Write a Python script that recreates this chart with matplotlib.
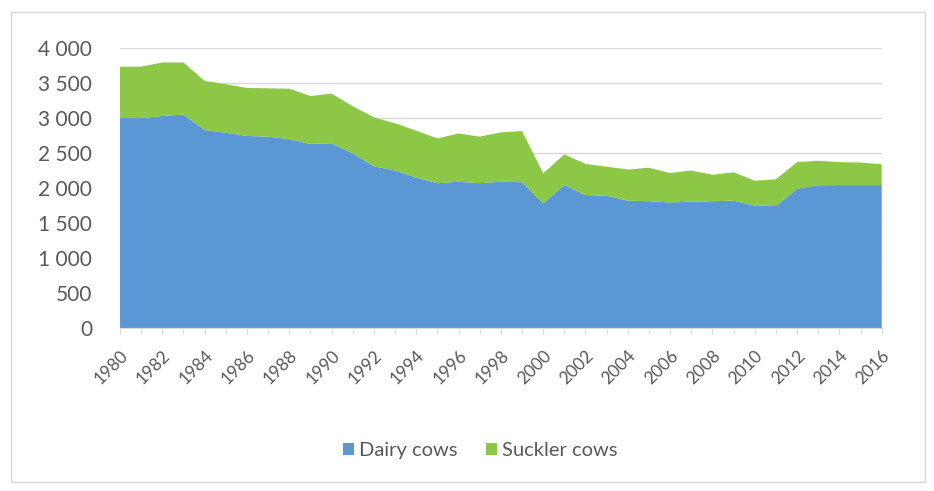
import matplotlib
matplotlib.use("Agg")
import matplotlib.pyplot as plt
from matplotlib.patches import Rectangle
from matplotlib.ticker import FuncFormatter, MultipleLocator

years = list(range(1980, 2017))
dairy_cows = [3000, 3000, 3030, 3050, 2830, 2790, 2745, 2735, 2700, 2630,
              2640, 2495, 2310, 2250, 2150, 2070, 2090, 2070, 2090, 2085,
              1780, 2045, 1900, 1890, 1820, 1812, 1795, 1805, 1812, 1820,
              1750, 1743, 1990, 2040, 2043, 2043, 2043]
total_cows = [3735, 3735, 3795, 3795, 3530, 3485, 3430, 3425, 3420, 3315,
              3350, 3170, 3010, 2925, 2820, 2710, 2780, 2735, 2795, 2815,
              2210, 2480, 2345, 2305, 2265, 2290, 2215, 2250, 2190, 2225,
              2105, 2125, 2370, 2390, 2370, 2365, 2340]
suckler_cows = [t - d for t, d in zip(total_cows, dairy_cows)]

series_names = ["Dairy cows", "Suckler cows"]
series_colors = ["#5B97D5", "#8CC845"]
year_labels = [str(y) for y in years[::2]]

plt.rcParams["font.family"] = ["Lato", "DejaVu Sans"]
text_grey = "#595959"

fig = plt.figure(figsize=(9.34, 4.91), dpi=100)
fig.patches.append(Rectangle((0.012, 0.018), 0.978, 0.958, transform=fig.transFigure,
                             fill=False, edgecolor="#D9D9D9", linewidth=1.0))

ax = fig.add_axes([0.1285, 0.332, 0.8155, 0.570])
ax.stackplot(years, dairy_cows, suckler_cows, colors=series_colors,
             labels=series_names, linewidth=0)

ax.set_xlim(years[0], years[-1])
ax.set_ylim(0, 4000)
ax.yaxis.set_major_locator(MultipleLocator(500))
ax.yaxis.set_major_formatter(FuncFormatter(lambda v, p: f"{int(v):,}".replace(",", " ")))
ax.grid(axis="y", color="#D9D9D9", linewidth=1.0)
ax.set_axisbelow(True)

ax.set_xticks(years[::2])
ax.set_xticklabels(year_labels, rotation=45, ha="right", rotation_mode="anchor")
ax.set_xticks(years, minor=True)
ax.tick_params(axis="x", which="both", length=4, color="#D9D9D9")
ax.tick_params(axis="x", which="major", labelsize=12.5, labelcolor=text_grey, pad=10)
ax.tick_params(axis="y", length=0, labelsize=15, labelcolor=text_grey, pad=20)

for side in ("top", "right", "left"):
    ax.spines[side].set_visible(False)
ax.spines["bottom"].set_color("#D9D9D9")

leg = fig.legend(*ax.get_legend_handles_labels(), loc="center", ncol=2,
                 bbox_to_anchor=(0.514, 0.083), frameon=False, fontsize=14.5,
                 handlelength=0.55, handleheight=0.55, handletextpad=0.25,
                 columnspacing=1.4)
for t in leg.get_texts():
    t.set_color(text_grey)

fig.savefig("out.png", dpi=100)
